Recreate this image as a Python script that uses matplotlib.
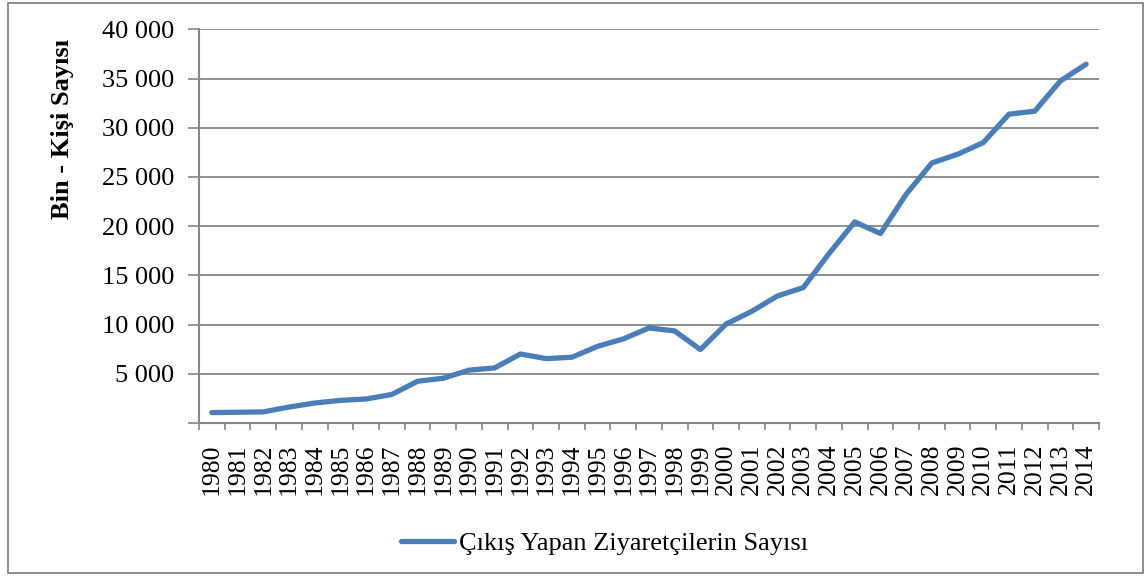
import matplotlib.pyplot as plt
import numpy as np
from matplotlib.patches import Rectangle
from matplotlib.ticker import FuncFormatter

years = [str(y) for y in range(1980, 2015)]
visitors = [1060, 1090, 1130, 1620, 2030, 2300, 2440, 2900, 4240, 4550,
            5370, 5600, 7010, 6540, 6680, 7790, 8540, 9660, 9350, 7460,
            10060, 11350, 12910, 13760, 17210, 20430, 19250, 23240, 26420, 27300,
            28490, 31380, 31680, 34760, 36450]
series_name = 'Çıkış Yapan Ziyaretçilerin Sayısı'
y_title = 'Bin - Kişi Sayısı'

plt.rcParams['font.family'] = ['Liberation Serif', 'DejaVu Serif']

fig = plt.figure(figsize=(11.47, 5.76), dpi=100)
ax = fig.add_axes([199 / 1147, 1 - 423 / 576, 900 / 1147, (423 - 29.3) / 576])

x = np.arange(len(years))
line, = ax.plot(x, visitors, color='#4a7ebb', linewidth=3.8,
                solid_capstyle='round', solid_joinstyle='round', label=series_name)

ax.set_xlim(-0.5, len(years) - 0.5)
ax.set_ylim(0, 40000)
ax.set_yticks(range(0, 40001, 5000))
ax.yaxis.set_major_formatter(FuncFormatter(
    lambda v, p: f'{int(v):,}'.replace(',', ' ') if v > 0 else ''))

ax.set_xticks(x)
ax.set_xticklabels(years, rotation=90, fontsize=18.5)
ax.set_xticks(np.arange(-0.5, len(years)), minor=True)
ax.tick_params(axis='x', which='major', length=0, pad=15)
ax.tick_params(axis='x', which='minor', length=5, color='#868686', width=1.2)
ax.tick_params(axis='y', length=8, color='#868686', width=1.2, labelsize=19, pad=10)

for s in ['top', 'right']:
    ax.spines[s].set_visible(False)
for s in ['left', 'bottom']:
    ax.spines[s].set_color('#868686')
    ax.spines[s].set_linewidth(1.5)

for v in range(5000, 40001, 5000):
    ax.axhline(v, color='#868686', linewidth=1.3, zorder=0)

fig.text(62 / 1147, 1 - 129 / 576, y_title, rotation=90, fontsize=19,
         fontweight='bold', ha='center', va='center')

fig.legend(handles=[line], loc='center', bbox_to_anchor=(605 / 1147, 1 - 543 / 576),
           frameon=False, fontsize=19, handlelength=2.0, handletextpad=0.2)

fig.patches.append(Rectangle((8 / 1147, 3 / 576), 1135 / 1147, 570 / 576,
                             transform=fig.transFigure, fill=False,
                             edgecolor='#868686', linewidth=1.3))

fig.savefig('out.png', dpi=100)
